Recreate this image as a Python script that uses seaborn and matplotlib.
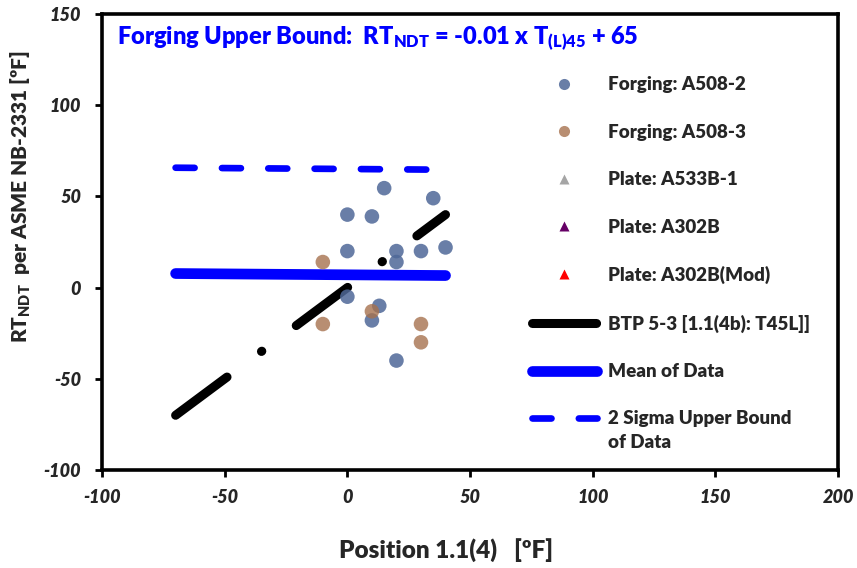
import matplotlib
matplotlib.use("Agg")
import matplotlib.pyplot as plt
from matplotlib.lines import Line2D
from matplotlib.font_manager import FontProperties
import seaborn as sns
import pandas as pd

# ---- data ----
a508_2_x = [15, 35, 0, 10, 0, 20, 30, 40, 20, 0, 13, 10, 20]
a508_2_y = [54.5, 49, 40, 39, 20, 20, 20, 22, 14, -5, -10, -18, -40]
a508_3_x = [-10, -10, 10, 30, 30]
a508_3_y = [14, -20, -13, -20, -30]
a533b_x, a533b_y = [], []
a302b_x, a302b_y = [], []
a302bm_x, a302bm_y = [], []
btp_x = [-70, 40]
btp_y = [-70, 40]
fit_x = [-70, 40]
mean_y = [7.7, 6.6]
upper_y = [65.7, 64.6]

x_ticks = [-100, -50, 0, 50, 100, 150, 200]
y_ticks = [-100, -50, 0, 50, 100, 150]
x_tick_labels = ['-100', '-50', '0', '50', '100', '150', '200']
y_tick_labels = ['-100', '-50', '0', '50', '100', '150']

sns.set_theme(style="white")
plt.rcParams['font.family'] = ['Lato', 'DejaVu Sans']
plt.rcParams['mathtext.fontset'] = 'custom'
plt.rcParams['mathtext.rm'] = 'Lato:heavy'
plt.rcParams['mathtext.it'] = 'Lato:heavy'
plt.rcParams['mathtext.bf'] = 'Lato:heavy'

fig = plt.figure(figsize=(8.57, 5.68), dpi=100)
ax = fig.add_axes([0.119, 0.1725, 0.859, 0.803])

c2 = '#4F6898'
c3 = '#A6724F'
blue = '#0000FF'

btp_style = (0, (7.1, 4.75, 0.05, 4.75))
up_style = (0, (2.85, 4.1))

ax.plot(btp_x, btp_y, color='black', lw=6.5, linestyle=btp_style,
        dash_capstyle='round', zorder=2)
ax.plot(fit_x, mean_y, color=blue, lw=7.7, solid_capstyle='round', zorder=2)
ax.plot(fit_x, upper_y, color=blue, lw=4.8, linestyle=up_style,
        dash_capstyle='round', zorder=2)

df2 = pd.DataFrame({'x': a508_2_x, 'y': a508_2_y})
df3 = pd.DataFrame({'x': a508_3_x, 'y': a508_3_y})
sns.scatterplot(data=df2, x='x', y='y', ax=ax, color=c2, s=110, alpha=0.85,
                edgecolor='none', zorder=3)
sns.scatterplot(data=df3, x='x', y='y', ax=ax, color=c3, s=110, alpha=0.8,
                edgecolor='none', zorder=3)

ax.set_xlim(-100, 200)
ax.set_ylim(-100, 150)
tick_font = {'family': 'Lato', 'weight': 'heavy', 'style': 'italic', 'size': 13}
ax.set_xticks(x_ticks)
ax.set_xticklabels(x_tick_labels, fontdict=tick_font)
ax.set_yticks(y_ticks)
ax.set_yticklabels(y_tick_labels, fontdict=tick_font)
ax.tick_params(axis='both', which='major', direction='out', length=5, width=2,
               color='black', bottom=True, left=True)
ax.tick_params(axis='x', pad=9)
ax.tick_params(axis='y', pad=10)
for sp in ax.spines.values():
    sp.set_color('black')
    sp.set_linewidth(2.6)

ax.set_xlabel('Position 1.1(4)   [ºF]', fontsize=17.5, fontweight='heavy')
ax.xaxis.set_label_coords(0.468, -0.150)
ax.set_ylabel('RT$_{\\mathrm{NDT}}$  per ASME NB-2331 [ºF]', fontsize=15,
              fontweight='heavy')
ax.yaxis.set_label_coords(-0.094, 0.60)

ax.text(0.0204, 0.945,
        'Forging Upper Bound:  RT$_{\\mathrm{NDT}}$ = -0.01 x T$_{\\mathrm{(L)45}}$ + 65',
        transform=ax.transAxes, va='center', ha='left', color=blue,
        fontsize=17, fontweight='heavy')

handles = [
    Line2D([], [], ls='', marker='o', ms=8, color=c2, alpha=0.85, mec='none'),
    Line2D([], [], ls='', marker='o', ms=8, color=c3, alpha=0.8, mec='none'),
    Line2D([], [], ls='', marker='^', ms=7.5, color='#A5A5A5', mec='none'),
    Line2D([], [], ls='', marker='^', ms=7.5, color='#660066', mec='none'),
    Line2D([], [], ls='', marker='^', ms=7.5, color='#FF0000', mec='none'),
    Line2D([], [], color='black', lw=6.5, linestyle=btp_style, dash_capstyle='round'),
    Line2D([], [], color=blue, lw=7.7, solid_capstyle='round'),
    Line2D([], [], color=blue, lw=4.8, linestyle=up_style, dash_capstyle='round'),
]
labels = ['Forging: A508-2', 'Forging: A508-3', 'Plate: A533B-1', 'Plate: A302B',
          'Plate: A302B(Mod)', 'BTP 5-3 [1.1(4b): T45L]]', 'Mean of Data',
          '2 Sigma Upper Bound']
leg_prop = {'family': 'Lato', 'weight': 'heavy', 'size': 13.5}
leg = ax.legend(handles, labels, loc='upper left', bbox_to_anchor=(0.584, 0.863),
                frameon=False, borderpad=0, borderaxespad=0, handlelength=3.45,
                handletextpad=0.6, labelspacing=1.62, prop=leg_prop)

fig.canvas.draw()
last = leg.get_texts()[-1]
bb = last.get_window_extent()
x0, y0 = fig.transFigure.inverted().transform((bb.x0, bb.y0))
fig.text(x0, y0 - 0.012, 'of Data', ha='left', va='top',
         fontproperties=FontProperties(**leg_prop))

fig.savefig('out.png', dpi=100)
